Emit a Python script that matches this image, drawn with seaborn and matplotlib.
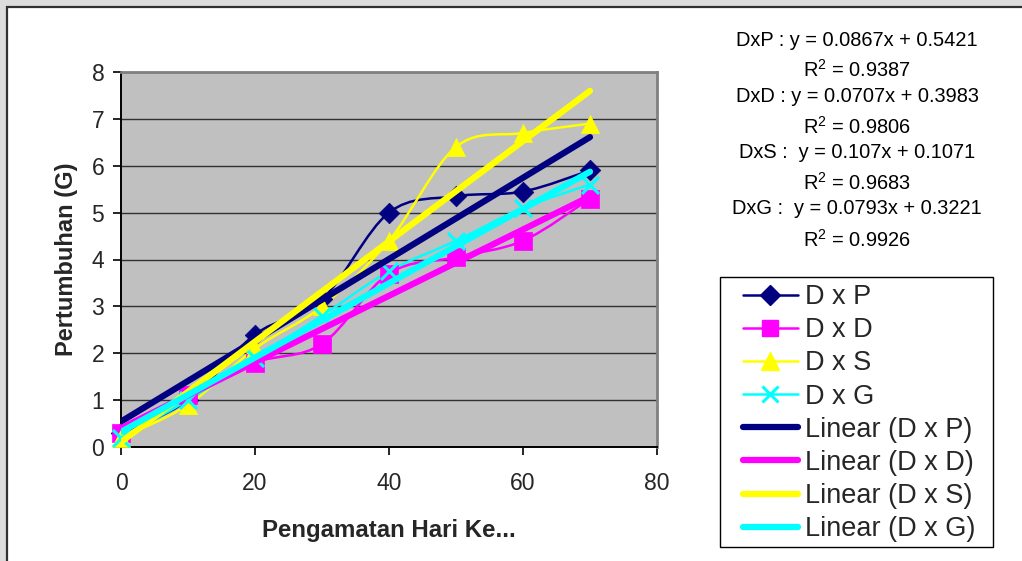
import numpy as np
import pandas as pd
import matplotlib
matplotlib.use("Agg")
import matplotlib.pyplot as plt
import seaborn as sns
from matplotlib.path import Path
from matplotlib.patches import PathPatch, Rectangle
from matplotlib.lines import Line2D

# Observation days and growth values per cross
days = [0, 10, 20, 30, 40, 50, 60, 70]
dxp = [0.3, 1.0, 2.4, 3.15, 5.0, 5.35, 5.45, 5.9]
dxd = [0.3, 1.1, 1.8, 2.2, 3.7, 4.05, 4.4, 5.3]
dxs = [0.2, 0.9, 2.1, 3.0, 4.4, 6.4, 6.7, 6.9]
dxg = [0.2, 1.0, 1.9, 2.8, 3.75, 4.4, 5.1, 5.6]

series_names = ["D x P", "D x D", "D x S", "D x G"]
series_values = [dxp, dxd, dxs, dxg]

# Linear trend coefficients
slopes = [0.0867, 0.0707, 0.107, 0.0793]
intercepts = [0.5421, 0.3983, 0.1071, 0.3221]
r_squared = [0.9387, 0.9806, 0.9683, 0.9926]
eq_prefix = ["DxP : ", "DxD : ", "DxS :  ", "DxG :  "]
trend_x = [0, 70]

x_ticks = [0, 20, 40, 60, 80]
y_ticks = [0, 1, 2, 3, 4, 5, 6, 7, 8]
x_label = "Pengamatan Hari Ke..."
y_label = "Pertumbuhan (G)"

colors = ["#000080", "#FF00FF", "#FFFF00", "#00FFFF"]
markers = ["D", "s", "^", "x"]
marker_sizes = [110, 150, 170, 150]

sns.set_style("white")
plt.rcParams["font.family"] = ["Liberation Sans", "DejaVu Sans"]
plt.rcParams["mathtext.fontset"] = "custom"
plt.rcParams["mathtext.rm"] = "Liberation Sans"
plt.rcParams["mathtext.it"] = "Liberation Sans"
plt.rcParams["mathtext.default"] = "rm"

W, H = 1022, 561
fig = plt.figure(figsize=(W / 100, H / 100), dpi=100)
fig.patch.set_facecolor("#dcdcdc")

# white chart frame
frame = Rectangle((7 / W, -0.05), 1.1, 1.05 - 7 / H, transform=fig.transFigure,
                  facecolor="white", edgecolor="#303030", lw=1.6, zorder=0)
fig.add_artist(frame)

ax = fig.add_axes([121 / W, 1 - 447 / H, 536 / W, 375 / H])
ax.set_facecolor("#c0c0c0")


def smooth_path(xs, ys):
    pts = np.column_stack([xs, ys]).astype(float)
    n = len(pts)
    verts = [pts[0]]
    codes = [Path.MOVETO]
    for i in range(n - 1):
        p0 = pts[max(i - 1, 0)]
        p1 = pts[i]
        p2 = pts[i + 1]
        p3 = pts[min(i + 2, n - 1)]
        verts += [p1 + (p2 - p0) / 6.0, p2 - (p3 - p1) / 6.0, p2]
        codes += [Path.CURVE4] * 3
    return Path(verts, codes)


# observed series: smoothed lines with markers
for name, vals, col, mk, ms in zip(series_names, series_values, colors, markers, marker_sizes):
    ax.add_patch(PathPatch(smooth_path(days, vals), facecolor="none",
                           edgecolor=col, lw=1.8, zorder=2))
    df = pd.DataFrame({"day": days, "value": vals})
    if mk == "x":
        sns.scatterplot(data=df, x="day", y="value", ax=ax, marker="x", color=col,
                        s=ms, linewidth=2.2, zorder=3, clip_on=False, legend=False)
    else:
        sns.scatterplot(data=df, x="day", y="value", ax=ax, marker=mk, color=col,
                        s=ms, edgecolor=col, linewidth=0.5, zorder=3,
                        clip_on=False, legend=False)

# linear trend lines
for col, m, b in zip(colors, slopes, intercepts):
    tdf = pd.DataFrame({"day": trend_x, "value": [m * x + b for x in trend_x]})
    sns.lineplot(data=tdf, x="day", y="value", ax=ax, color=col, lw=4.5,
                 zorder=4, solid_capstyle="round")

ax.set_xlim(0, 80)
ax.set_ylim(0, 8)
ax.set_xticks(x_ticks)
ax.set_yticks(y_ticks)
ax.yaxis.grid(True, color="#303030", lw=1.0)
ax.xaxis.grid(False)
ax.set_axisbelow(True)
for side in ["top", "right"]:
    ax.spines[side].set_color("#808080")
    ax.spines[side].set_linewidth(2)
for side in ["left", "bottom"]:
    ax.spines[side].set_color("black")
    ax.spines[side].set_linewidth(1.4)
ax.tick_params(axis="both", direction="out", length=6, width=1.2, color="black",
               labelsize=16.5, left=True, bottom=True)
ax.tick_params(axis="x", pad=12)
ax.tick_params(axis="y", pad=6)
ax.set_xlabel(x_label, fontsize=17.3, fontweight="bold", labelpad=17)
ax.set_ylabel(y_label, fontsize=17, fontweight="bold", labelpad=10)

# trend equations
eq_y = [41, 70, 97, 127, 153, 183, 209, 240]
lines = []
for p, m, b, r in zip(eq_prefix, slopes, intercepts, r_squared):
    lines.append(f"{p}y = {m}x + {b}")
    lines.append(f"R$^2$ = {r}")
for txt, yy in zip(lines, eq_y):
    fig.text(857 / W, 1 - yy / H, txt, ha="center", va="center", fontsize=14.4,
             color="black")

# legend
handles = []
labels = []
for name, col, mk in zip(series_names, colors, markers):
    if mk == "x":
        h = Line2D([0], [0], color=col, lw=1.8, marker="x", markersize=12,
                   markeredgewidth=2.2)
    else:
        msz = {"D": 10, "s": 12, "^": 13}[mk]
        h = Line2D([0], [0], color=col, lw=1.8, marker=mk, markersize=msz,
                   markeredgecolor=col)
    handles.append(h)
    labels.append(name)
for name, col in zip(series_names, colors):
    handles.append(Line2D([0], [0], color=col, lw=4.5, solid_capstyle="round"))
    labels.append(f"Linear ({name})")

leg_box = Rectangle((720 / W, 1 - 547 / H), 273 / W, 270 / H, transform=fig.transFigure,
                    facecolor="white", edgecolor="black", lw=1.0, zorder=1)
fig.add_artist(leg_box)
leg = fig.legend(handles, labels, loc="upper left",
                 bbox_to_anchor=(743 / W, 1 - 284 / H), bbox_transform=fig.transFigure,
                 fontsize=19.5, frameon=False, borderpad=0, labelspacing=0.265,
                 handlelength=2.03, handletextpad=0.26, borderaxespad=0)
leg.set_zorder(2)

fig.savefig("out.png", dpi=100, facecolor=fig.get_facecolor())
